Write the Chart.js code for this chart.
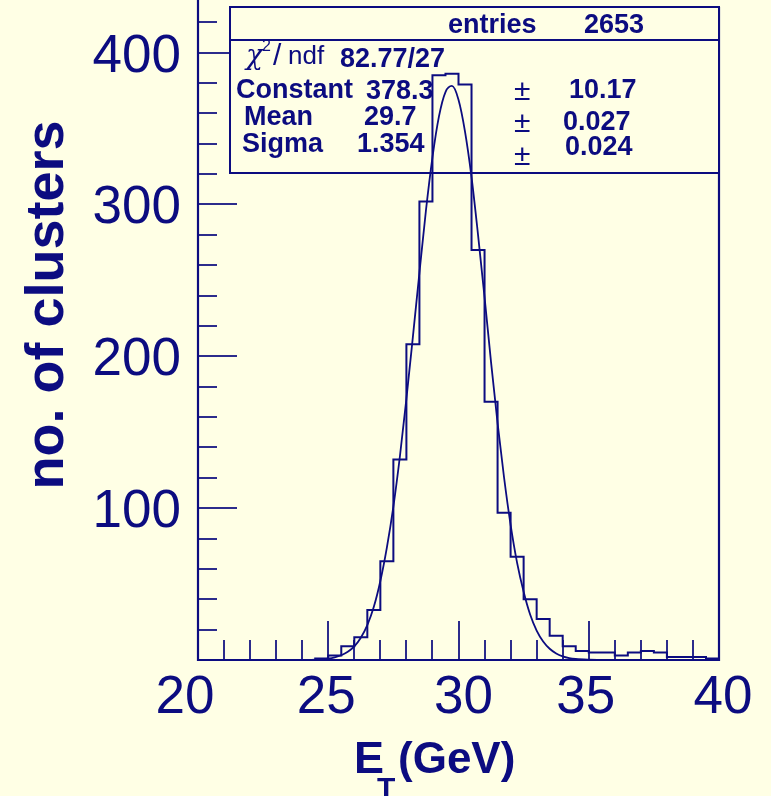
<!DOCTYPE html>
<html>
<head>
<meta charset="utf-8">
<script src="https://cdn.jsdelivr.net/npm/chart.js@4.4.1/dist/chart.umd.min.js"></script>
<style>
    html, body { margin: 0; padding: 0; background: #FFFFE5; }
    #chart { display: block; }
</style>
</head>
<body>
<canvas id="chart" width="771" height="796"></canvas>
<script>
// --- DATA ---
const binLow = [20.0, 24.5, 25.0, 25.5, 26.0, 26.5, 27.0, 27.5, 28.0, 28.5, 29.0, 29.5, 30.0,
                30.5, 31.0, 31.5, 32.0, 32.5, 33.0, 33.5, 34.0, 34.5, 35.0, 35.5, 36.0,
                36.5, 37.0, 37.5, 38.0, 38.5, 39.0, 39.5];
const counts = [0, 1, 3, 9, 15, 33, 65, 132, 208, 302, 385, 386, 379,
                270, 170, 97, 68, 40, 27, 16, 9, 6, 5, 5, 3,
                5, 6, 5, 2, 2, 2, 1];
const histHigh = 40.0;

// gaussian fit curve as drawn
const fitX = [24.0, 24.5, 25.0, 25.25, 25.5, 25.75, 26.0, 26.25, 26.5, 26.75, 27.0, 27.25,
              27.5, 27.75, 28.0, 28.25, 28.5, 28.75, 29.0, 29.25, 29.5, 29.75, 30.0, 30.25,
              30.5, 30.75, 31.0, 31.25, 31.5, 31.75, 32.0, 32.25, 32.5, 32.75, 33.0, 33.25,
              33.5, 33.75, 34.0, 34.25, 34.5, 35.0, 35.5];
const fitY = [0, 0.2, 0.9, 1.7, 3.1, 5.4, 9, 14.7, 23, 35, 52, 74,
              101, 134, 172, 213, 255, 296, 331, 358, 374, 378, 369, 348,
              318, 280, 239, 196, 156, 120, 89, 64, 45, 30, 19.4, 12.2,
              7.4, 4.3, 2.4, 1.3, 0.7, 0.2, 0];

const xTickLabels = [20, 25, 30, 35, 40];
const yTickLabels = [100, 200, 300, 400];

const statRows = [
    { name: 'Constant', value: '378.3', err: '10.17' },
    { name: 'Mean', value: '29.7', err: '0.027' },
    { name: 'Sigma', value: '1.354', err: '0.024' }
];
const entries = '2653';
const chi2ndf = '82.77/27';

// --- STYLE ---
const BG = '#FFFFE5';
const INK = '#0c0c80';
const TICK = '#2c2c8c';
const SANS = '"Liberation Sans", Arial, Helvetica, sans-serif';

const histPoints = binLow.map((x, i) => ({ x: x, y: counts[i] }));
histPoints.push({ x: histHigh, y: counts[counts.length - 1] });
const fitPoints = fitX.map((x, i) => ({ x: x, y: fitY[i] }));

// background, frame, inside ticks and the stats box (drawn under the data)
const framePlugin = {
    id: 'frame',
    beforeDraw(chart) {
        const ctx = chart.ctx;
        ctx.save();
        ctx.fillStyle = BG;
        ctx.fillRect(0, 0, chart.width, chart.height);
        ctx.restore();
    },
    beforeDatasetsDraw(chart) {
        const { ctx, chartArea: a, scales: { x, y } } = chart;
        ctx.save();

        // ticks
        ctx.strokeStyle = TICK;
        ctx.lineWidth = 2;
        for (let v = 21; v < 40; v++) {
            const px = Math.round(x.getPixelForValue(v));
            const len = v % 5 === 0 ? 39 : 20;
            ctx.beginPath();
            ctx.moveTo(px, a.bottom);
            ctx.lineTo(px, a.bottom - len);
            ctx.stroke();
        }
        for (let v = 20; v <= 420; v += 20) {
            const py = Math.round(y.getPixelForValue(v));
            const len = v % 100 === 0 ? 39 : 19;
            ctx.beginPath();
            ctx.moveTo(a.left, py);
            ctx.lineTo(a.left + len, py);
            ctx.stroke();
        }

        // frame
        ctx.strokeStyle = INK;
        ctx.lineWidth = 2.2;
        ctx.beginPath();
        ctx.moveTo(a.left, a.top - 7);
        ctx.lineTo(a.left, a.bottom);
        ctx.lineTo(a.right, a.bottom);
        ctx.lineTo(a.right, a.top);
        ctx.stroke();

        // stats box
        const bx = 230, by = 7, bw = a.right - bx, bh = 166;
        ctx.fillStyle = BG;
        ctx.fillRect(bx, by, bw, bh);
        ctx.lineWidth = 2;
        ctx.strokeRect(bx, by, bw, bh);
        ctx.beginPath();
        ctx.moveTo(bx, 40);
        ctx.lineTo(a.right, 40);
        ctx.stroke();

        ctx.fillStyle = INK;
        ctx.textBaseline = 'alphabetic';
        ctx.textAlign = 'left';
        ctx.font = 'bold 27px ' + SANS;
        ctx.fillText('entries', 448, 33);
        ctx.fillText(entries, 584, 33);

        // chi2/ndf
        ctx.font = 'italic 28px "DejaVu Serif", serif';
        ctx.fillText('\u03C7', 246, 64);
        ctx.font = '16px ' + SANS;
        ctx.fillText('2', 262, 51);
        ctx.font = '30px ' + SANS;
        ctx.fillText('/', 273, 65);
        ctx.font = '26px ' + SANS;
        ctx.fillText('ndf', 288, 64);
        ctx.font = 'bold 27px ' + SANS;
        ctx.fillText(chi2ndf, 340, 67);

        const nameX = [236, 244, 242];
        const nameY = [98, 125, 152];
        const valX = [366, 364, 357];
        const valY = [99, 125, 152];
        const pmY = [100, 132, 165];
        const errX = [569, 563, 565];
        const errY = [98, 130, 155];
        statRows.forEach((r, i) => {
            ctx.font = 'bold 27px ' + SANS;
            ctx.fillText(r.name, nameX[i], nameY[i]);
            ctx.fillText(r.value, valX[i], valY[i]);
            ctx.fillText(r.err, errX[i], errY[i]);
            ctx.font = '30px ' + SANS;
            ctx.fillText('\u00B1', 514, pmY[i]);
        });

        ctx.restore();
    },
    afterDraw(chart) {
        const { ctx, scales: { x, y } } = chart;
        ctx.save();
        ctx.fillStyle = INK;

        // tick labels
        const xShift = [-13, -2, 5, -3, 4];
        ctx.font = '53px ' + SANS;
        ctx.textBaseline = 'alphabetic';
        ctx.textAlign = 'center';
        xTickLabels.forEach((v, i) => {
            ctx.fillText(String(v), x.getPixelForValue(v) + xShift[i], 713);
        });
        ctx.textAlign = 'right';
        yTickLabels.forEach(v => {
            ctx.fillText(String(v), 181, y.getPixelForValue(v) + 19);
        });

        // y title
        ctx.save();
        ctx.translate(63, 305);
        ctx.rotate(-Math.PI / 2);
        ctx.textAlign = 'center';
        ctx.font = 'bold 54px ' + SANS;
        ctx.fillText('no. of clusters', 0, 0);
        ctx.restore();

        // x title with subscript
        ctx.textAlign = 'left';
        ctx.font = 'bold 45px ' + SANS;
        ctx.fillText('E', 354, 773);
        ctx.font = 'bold 30px ' + SANS;
        ctx.fillText('T', 377, 798);
        ctx.font = 'bold 44px ' + SANS;
        ctx.fillText('(GeV)', 398, 773);

        ctx.restore();
    }
};

const chart = new Chart(document.getElementById('chart'), {
    type: 'line',
    data: {
        datasets: [
            {
                label: 'entries',
                data: histPoints,
                stepped: true,
                borderColor: INK,
                borderWidth: 2,
                pointRadius: 0,
                fill: false
            },
            {
                label: 'gaus fit',
                data: fitPoints,
                cubicInterpolationMode: 'monotone',
                borderColor: INK,
                borderWidth: 1.8,
                pointRadius: 0,
                fill: false
            }
        ]
    },
    options: {
        responsive: false,
        animation: false,
        devicePixelRatio: 1,
        layout: { padding: { left: 198, right: 52, top: 7, bottom: 136 } },
        plugins: { legend: { display: false }, tooltip: { enabled: false } },
        scales: {
            x: { type: 'linear', min: 20, max: 40, display: false },
            y: { type: 'linear', min: 0, max: 430, display: false }
        }
    },
    plugins: [framePlugin]
});
</script>
</body>
</html>
